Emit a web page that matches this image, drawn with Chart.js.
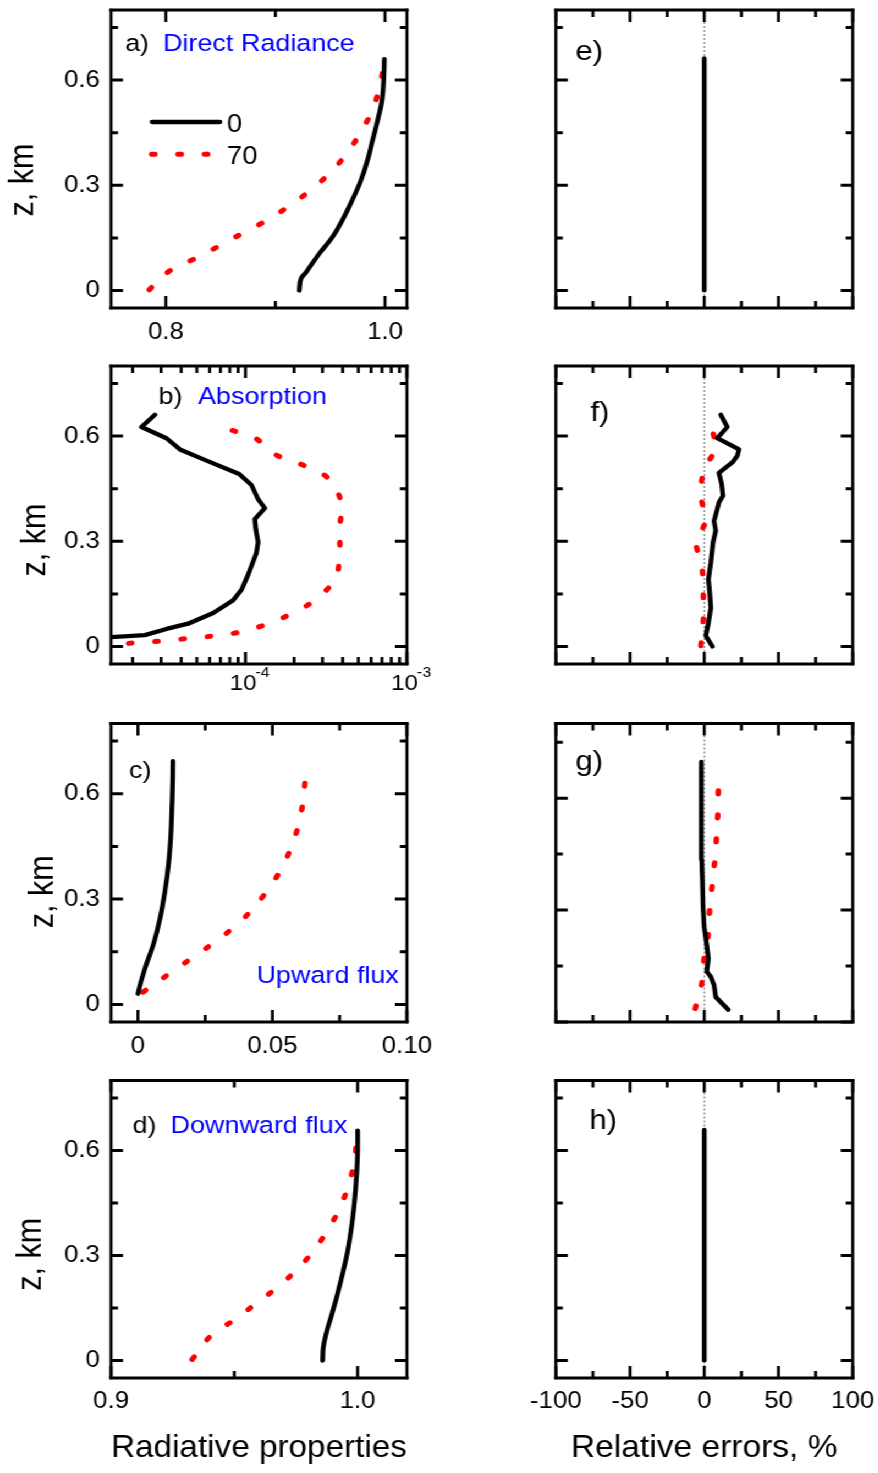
<!DOCTYPE html>
<html>
<head>
<meta charset="utf-8">
<script src="https://cdn.jsdelivr.net/npm/chart.js"></script>
<style>
  html, body { margin: 0; padding: 0; background: #fff; overflow: hidden; }
  /* the figure is laid out in narrower units and widened by SX */
  #fig { position: relative; width: 798.18px; height: 1473px; transform: scaleX(1.1); transform-origin: 0 0; }
  #fig canvas { position: absolute; }
</style>
</head>
<body>
<div id="fig"></div>
<script>
const SX = 1.1;
const FONT = "'Liberation Sans', Arial, Helvetica, sans-serif";

// ---------- a) direct radiance vs height ----------
const zDirect0  = [0, 0.033, 0.052, 0.105, 0.152, 0.200, 0.257, 0.314, 0.371, 0.429, 0.486, 0.543, 0.600, 0.660];
const direct0   = [0.9218, 0.9233, 0.9280, 0.9400, 0.9520, 0.9610, 0.9700, 0.9780, 0.9840, 0.9887, 0.9933, 0.9973, 0.9988, 0.9994];
const zDirect70 = [0.002, 0.055, 0.090, 0.126, 0.165, 0.203, 0.250, 0.305, 0.373, 0.445, 0.517, 0.590, 0.655];
const direct70  = [0.7848, 0.8030, 0.8259, 0.8480, 0.8710, 0.8938, 0.9166, 0.9394, 0.9607, 0.9766, 0.9887, 0.9957, 0.9993];

// ---------- b) absorption ----------
const zAbs0   = [0.026, 0.0325, 0.050, 0.065, 0.0955, 0.132, 0.162, 0.205, 0.2675, 0.298, 0.334, 0.363, 0.3946, 0.420, 0.4605, 0.492, 0.530, 0.562, 0.594, 0.626, 0.661];
const absorb0 = [1.40e-5, 2.38e-5, 3.24e-5, 4.41e-5, 6.31e-5, 8.39e-5, 9.45e-5, 1.039e-4, 1.17e-4, 1.198e-4, 1.159e-4, 1.142e-4, 1.318e-4, 1.198e-4, 1.089e-4, 9.14e-5, 5.74e-5, 3.93e-5, 3.24e-5, 2.27e-5, 2.75e-5];
const zAbs70   = [0.000, 0.005, 0.0115, 0.016, 0.024, 0.0306, 0.041, 0.062, 0.091, 0.132, 0.194, 0.266, 0.339, 0.409, 0.480, 0.518, 0.546, 0.595, 0.619];
const absorb70 = [1.30e-5, 1.556e-5, 2.22e-5, 3.17e-5, 4.59e-5, 6.55e-5, 9.23e-5, 1.33e-4, 1.88e-4, 2.69e-4, 3.60e-4, 3.83e-4, 3.83e-4, 3.93e-4, 3.25e-4, 2.25e-4, 1.556e-4, 1.14e-4, 7.93e-5];

// ---------- c) upward flux ----------
const zUp0   = [0.0306, 0.0573, 0.105, 0.172, 0.248, 0.325, 0.401, 0.478, 0.554, 0.631, 0.693];
const upFlux0 = [0.0, 0.00087, 0.0027, 0.0058, 0.0083, 0.0101, 0.0114, 0.0122, 0.0126, 0.0129, 0.0130];
const zUp70   = [0.035, 0.086, 0.134, 0.184, 0.244, 0.313, 0.385, 0.459, 0.528, 0.602, 0.672];
const upFlux70 = [0.00185, 0.0114, 0.0204, 0.0297, 0.0392, 0.0470, 0.0532, 0.0575, 0.0602, 0.0617, 0.0624];

// ---------- d) downward flux ----------
const zDown0    = [0, 0.038, 0.076, 0.124, 0.181, 0.248, 0.314, 0.390, 0.467, 0.543, 0.600, 0.657];
const downFlux0 = [0.9858, 0.9861, 0.9872, 0.9892, 0.9915, 0.9939, 0.9960, 0.9977, 0.9989, 0.9997, 1.0000, 1.0000];
const zDown70    = [0.003, 0.067, 0.117, 0.170, 0.226, 0.293, 0.365, 0.438, 0.508, 0.579, 0.652];
const downFlux70 = [0.9329, 0.9400, 0.9501, 0.9602, 0.9703, 0.9798, 0.9872, 0.9929, 0.9966, 0.9989, 0.9996];

// ---------- e)-h) relative errors, % ----------
const zErrDirect = [0, 0.662];
const errDirect0 = [0, 0];
const errDirect70 = [0, 0];

const zErrAbs0 = [0, 0.0306, 0.067, 0.110, 0.153, 0.191, 0.239, 0.296, 0.330, 0.358, 0.411, 0.430, 0.463, 0.495, 0.525, 0.543, 0.562, 0.594, 0.626, 0.661];
const errAbs0  = [5.5, 1.0, 2.8, 4.4, 3.7, 2.8, 4.4, 5.9, 7.7, 6.6, 9.9, 12.6, 11.7, 9.9, 18.9, 22.2, 23.4, 8.8, 15.5, 11.1];
const zErrAbs70 = [0.002, 0.076, 0.145, 0.218, 0.291, 0.361, 0.435, 0.506, 0.564, 0.635];
const errAbs70  = [-2.3, -0.6, -0.6, -1.2, -5.7, 1.5, -3.0, -0.6, 8.4, 4.6];

const zErrUp0 = [0.033, 0.067, 0.099, 0.121, 0.135, 0.171, 0.211, 0.256, 0.310, 0.373, 0.435, 0.498, 0.570, 0.642, 0.697];
const errUp0  = [16.2, 7.7, 6.6, 4.4, 1.7, 2.8, 1.5, -0.1, -0.8, -1.2, -1.7, -2.3, -2.1, -1.9, -1.7];
const zErrUp70 = [0.036, 0.103, 0.171, 0.238, 0.305, 0.373, 0.442, 0.507, 0.575, 0.644];
const errUp70  = [-6.1, -1.7, -0.1, 2.8, 3.7, 5.5, 7.3, 8.4, 9.3, 9.5];

const zErrDown = [0, 0.659];
const errDown0 = [0, 0];
const errDown70 = [0, 0];

// ---------- ticks ----------
const zTicks = [0, 0.3, 0.6];
const zTickLabels = ['0', '0.3', '0.6'];
const zMinor = [0.15, 0.45, 0.75];

const directTicks = [0.8, 1.0];
const directTickLabels = ['0.8', '1.0'];
const directMinor = [0.9];

const absTicks = [1e-4, 1e-3];
const absTickExponents = ['-4', '-3'];
const absMinor = [2e-5, 3e-5, 4e-5, 5e-5, 6e-5, 7e-5, 8e-5, 9e-5, 2e-4, 3e-4, 4e-4, 5e-4, 6e-4, 7e-4, 8e-4, 9e-4];

const upTicks = [0, 0.05, 0.10];
const upTickLabels = ['0', '0.05', '0.10'];
const upMinor = [0.025, 0.075];

const downTicks = [0.9, 1.0];
const downTickLabels = ['0.9', '1.0'];
const downMinor = [0.95];

const errTicks = [-100, -50, 0, 50, 100];
const errTickLabels = ['-100', '-50', '0', '50', '100'];
const errMinor = [-75, -25, 25, 75];

// ---------- layout (figure pixels) ----------
const COLS = [
  { x0: 0,   x1: 440, L: 111, R: 408 },
  { x0: 460, x1: 878, L: 556, R: 854 }
];
const ROWS = [
  { y0: 0,    y1: 357,  T: 10,     B: 308,  xPad: 10.5 },
  { y0: 357,  y1: 714,  T: 366,    B: 664,  xPad: 10.5 },
  { y0: 714,  y1: 1071, T: 723.5,  B: 1022, xPad: 10.5 },
  { y0: 1071, y1: 1473, T: 1080.5, B: 1378, xPad: 9.6 }
];
const FRAME_W = 3;
const TICK_MAJOR = 12;
const TICK_MINOR = 7;
const TICK_FONT = 23.5;
const TITLE_FONT = 30.5;
const LEFT_LABEL_FONT = 24.5;
const RIGHT_LABEL_FONT = 28.5;
const BLUE = '#0000ff';

const solid = (xs, zs, tension) => ({
  data: xs.map((v, i) => ({ x: v, y: zs[i] })),
  showLine: true, borderColor: '#000000', borderWidth: 4.3, pointRadius: 0,
  borderCapStyle: 'round', borderJoinStyle: 'round', tension
});
const dotted = (xs, zs, tension, width = 5) => ({
  data: xs.map((v, i) => ({ x: v, y: zs[i] })),
  showLine: true, borderColor: '#ff0000', borderWidth: width, pointRadius: 0,
  borderDash: [3, 21], borderCapStyle: 'round', borderJoinStyle: 'round', tension
});

const panels = [
  { id: 'a', col: 0, row: 0, xType: 'linear', xMin: 0.75, xMax: 1.02, yMin: -0.05, yMax: 0.8,
    xTicks: directTicks, xLabels: directTickLabels, xMinor: directMinor, yLabels: true,
    datasets: [solid(direct0, zDirect0, 0.4), dotted(direct70, zDirect70, 0.4)],
    texts: [['a)', '#000', 14, 40.7, LEFT_LABEL_FONT], ['Direct Radiance', BLUE, 52, 40.7, LEFT_LABEL_FONT]],
    yTitle: [-87, 21],
    legend: [
      { ds: 0, text: '0',  x0: 41,   x1: 109,  dy: 112,   tx: 116, ty: 121.7 },
      { ds: 1, text: '70', x0: 40.6, x1: 96.7, dy: 144.3, tx: 116, ty: 154.3 }
    ] },
  { id: 'b', col: 0, row: 1, xType: 'logarithmic', xMin: 1.47e-5, xMax: 1e-3, yMin: -0.05, yMax: 0.8,
    xTicks: absTicks, xExp: absTickExponents, xMinor: absMinor, yLabels: true,
    datasets: [solid(absorb0, zAbs0, 0), dotted(absorb70, zAbs70, 0.35)],
    texts: [['b)', '#000', 47.5, 38.3, LEFT_LABEL_FONT], ['Absorption', BLUE, 87, 38.3, LEFT_LABEL_FONT]],
    yTitle: [-75, 25] },
  { id: 'c', col: 0, row: 2, xType: 'linear', xMin: -0.01, xMax: 0.10, yMin: -0.05, yMax: 0.8,
    xTicks: upTicks, xLabels: upTickLabels, xMinor: upMinor, yLabels: true,
    datasets: [solid(upFlux0, zUp0, 0.4), dotted(upFlux70, zUp70, 0.4)],
    texts: [['c)', '#000', 18, 54.8, LEFT_LABEL_FONT], ['Upward flux', BLUE, 145.5, 259.5, LEFT_LABEL_FONT]],
    yTitle: [-67, 19] },
  { id: 'd', col: 0, row: 3, xType: 'linear', xMin: 0.9, xMax: 1.02, yMin: -0.05, yMax: 0.8,
    xTicks: downTicks, xLabels: downTickLabels, xMinor: downMinor, yLabels: true,
    xTitle: 'Radiative properties',
    datasets: [solid(downFlux0, zDown0, 0.4), dotted(downFlux70, zDown70, 0.4)],
    texts: [['d)', '#000', 21.5, 52.8, LEFT_LABEL_FONT], ['Downward flux', BLUE, 59.5, 52.8, LEFT_LABEL_FONT]],
    yTitle: [-80, 25] },
  { id: 'e', col: 1, row: 0, xType: 'linear', xMin: -100, xMax: 100, yMin: -0.05, yMax: 0.8,
    xTicks: errTicks, xLabels: null, xMinor: errMinor, yLabels: false, zeroLine: true,
    datasets: [solid(errDirect0, zErrDirect, 0), dotted(errDirect70, zErrDirect, 0, 3.5)],
    texts: [['e)', '#000', 19.5, 50, RIGHT_LABEL_FONT]] },
  { id: 'f', col: 1, row: 1, xType: 'linear', xMin: -100, xMax: 100, yMin: -0.05, yMax: 0.8,
    xTicks: errTicks, xLabels: null, xMinor: errMinor, yLabels: false, zeroLine: true,
    datasets: [solid(errAbs0, zErrAbs0, 0), dotted(errAbs70, zErrAbs70, 0)],
    texts: [['f)', '#000', 34.5, 54.5, RIGHT_LABEL_FONT]] },
  { id: 'g', col: 1, row: 2, xType: 'linear', xMin: -100, xMax: 100, yMin: 0, yMax: 0.8,
    xTicks: errTicks, xLabels: null, xMinor: errMinor, yLabels: false, zeroLine: true,
    datasets: [solid(errUp0, zErrUp0, 0), dotted(errUp70, zErrUp70, 0.3)],
    texts: [['g)', '#000', 19.5, 46.5, RIGHT_LABEL_FONT]] },
  { id: 'h', col: 1, row: 3, xType: 'linear', xMin: -100, xMax: 100, yMin: -0.05, yMax: 0.8,
    xTicks: errTicks, xLabels: errTickLabels, xMinor: errMinor, yLabels: false, zeroLine: true,
    xTitle: 'Relative errors, %',
    datasets: [solid(errDown0, zErrDown, 0), dotted(errDown70, zErrDown, 0, 3.5)],
    texts: [['h)', '#000', 33.5, 48.8, RIGHT_LABEL_FONT]] }
];

// frame, inward ticks, annotations and legend for each panel
const DECOR = {};
const panelDecor = {
  id: 'panelDecor',
  beforeDatasetsDraw(chart) {
    const d = DECOR[chart.canvas.id];
    if (!d || !d.zeroLine) return;
    const { ctx, chartArea: a } = chart;
    const px = chart.scales.x.getPixelForValue(0);
    ctx.save();
    ctx.strokeStyle = '#555555';
    ctx.lineWidth = 1 / SX;
    ctx.setLineDash([2, 2]);
    ctx.beginPath();
    ctx.moveTo(px, a.top);
    ctx.lineTo(px, a.bottom);
    ctx.stroke();
    ctx.restore();
  },
  afterDatasetsDraw(chart) {
    const d = DECOR[chart.canvas.id];
    if (!d) return;
    const { ctx, chartArea: a } = chart;
    const xs = chart.scales.x, ys = chart.scales.y;
    ctx.save();
    ctx.strokeStyle = '#000';
    ctx.fillStyle = '#000';

    // frame
    ctx.lineCap = 'square';
    ctx.lineWidth = FRAME_W;
    ctx.beginPath();
    ctx.moveTo(a.left, a.top); ctx.lineTo(a.right, a.top);
    ctx.moveTo(a.left, a.bottom); ctx.lineTo(a.right, a.bottom);
    ctx.stroke();
    ctx.lineWidth = FRAME_W / SX;
    ctx.beginPath();
    ctx.moveTo(a.left, a.top); ctx.lineTo(a.left, a.bottom);
    ctx.moveTo(a.right, a.top); ctx.lineTo(a.right, a.bottom);
    ctx.stroke();

    // inward ticks on all four sides
    ctx.lineCap = 'butt';
    const xMarks = (vals, len) => {
      ctx.lineWidth = FRAME_W / SX;
      ctx.beginPath();
      vals.forEach(v => {
        const px = xs.getPixelForValue(v);
        if (px < a.left - 0.5 || px > a.right + 0.5) return;
        ctx.moveTo(px, a.bottom); ctx.lineTo(px, a.bottom - len);
        ctx.moveTo(px, a.top); ctx.lineTo(px, a.top + len);
      });
      ctx.stroke();
    };
    const yMarks = (vals, len) => {
      ctx.lineWidth = FRAME_W;
      ctx.beginPath();
      vals.forEach(v => {
        const py = ys.getPixelForValue(v);
        if (py < a.top - 0.5 || py > a.bottom + 0.5) return;
        ctx.moveTo(a.left, py); ctx.lineTo(a.left + len / SX, py);
        ctx.moveTo(a.right, py); ctx.lineTo(a.right - len / SX, py);
      });
      ctx.stroke();
    };
    xMarks(d.xTicks, TICK_MAJOR);
    xMarks(d.xMinor, TICK_MINOR);
    yMarks(zTicks, TICK_MAJOR);
    yMarks(zMinor, TICK_MINOR);

    // powers of ten under the logarithmic axis
    if (d.xExp) {
      d.xTicks.forEach((v, i) => {
        const cx = xs.getPixelForValue(v) - 2.3 / SX;
        ctx.font = `22px ${FONT}`;
        ctx.textAlign = 'center';
        ctx.textBaseline = 'alphabetic';
        const w = ctx.measureText('10').width;
        ctx.fillText('10', cx, a.bottom + 26);
        ctx.font = `14.5px ${FONT}`;
        ctx.textAlign = 'left';
        ctx.fillText(d.xExp[i], cx + w / 2 - 1, a.bottom + 12.7);
      });
    }

    // panel letters and captions
    ctx.textAlign = 'left';
    ctx.textBaseline = 'alphabetic';
    (d.texts || []).forEach(([txt, color, dx, dy, size]) => {
      ctx.font = `${size}px ${FONT}`;
      ctx.fillStyle = color;
      ctx.fillText(txt, a.left + dx / SX, a.top + dy);
    });

    // legend with line samples taken from the datasets
    (d.legend || []).forEach(item => {
      const ds = chart.data.datasets[item.ds];
      ctx.save();
      ctx.strokeStyle = ds.borderColor;
      ctx.lineWidth = ds.borderWidth;
      ctx.lineCap = ds.borderCapStyle || 'butt';
      ctx.setLineDash(ds.borderDash || []);
      ctx.beginPath();
      ctx.moveTo(a.left + item.x0 / SX, a.top + item.dy);
      ctx.lineTo(a.left + item.x1 / SX, a.top + item.dy);
      ctx.stroke();
      ctx.restore();
      ctx.font = `25px ${FONT}`;
      ctx.fillStyle = '#000';
      ctx.fillText(item.text, a.left + item.tx / SX, a.top + item.ty);
    });

    // vertical axis title
    if (d.yTitle) {
      ctx.save();
      ctx.fillStyle = '#000';
      ctx.font = `${TITLE_FONT}px ${FONT}`;
      ctx.textAlign = 'center';
      ctx.textBaseline = 'middle';
      ctx.translate(a.left + d.yTitle[0] / SX, (a.top + a.bottom) / 2 + d.yTitle[1]);
      ctx.rotate(-Math.PI / 2);
      ctx.fillText('z, km', 0, 0);
      ctx.restore();
    }
    ctx.restore();
  }
};
Chart.register(panelDecor);

const fig = document.getElementById('fig');

panels.forEach(p => {
  const col = COLS[p.col], row = ROWS[p.row];
  const canvas = document.createElement('canvas');
  canvas.id = 'panel-' + p.id;
  canvas.width = (col.x1 - col.x0) / SX;
  canvas.height = row.y1 - row.y0;
  canvas.style.left = (col.x0 / SX) + 'px';
  canvas.style.top = row.y0 + 'px';
  canvas.style.width = canvas.width + 'px';
  canvas.style.height = canvas.height + 'px';
  fig.appendChild(canvas);

  DECOR[canvas.id] = {
    xTicks: p.xTicks, xMinor: p.xMinor, xExp: p.xExp, texts: p.texts,
    legend: p.legend, yTitle: p.yTitle, zeroLine: p.zeroLine
  };

  const yAxisW = (col.L - col.x0) / SX;
  const xAxisH = row.y1 - row.B;
  const tickFont = { family: FONT, size: TICK_FONT };

  new Chart(canvas, {
    type: 'scatter',
    data: { datasets: p.datasets },
    options: {
      responsive: false,
      animation: false,
      events: [],
      layout: { padding: { left: 0, top: row.T - row.y0, right: (col.x1 - col.R) / SX, bottom: 0 } },
      plugins: { legend: { display: false }, tooltip: { enabled: false } },
      scales: {
        x: {
          type: p.xType, position: 'bottom', min: p.xMin, max: p.xMax, bounds: 'data',
          grid: { display: false, drawTicks: false }, border: { display: false },
          afterBuildTicks: s => { s.ticks = p.xTicks.map(v => ({ value: v })); },
          afterFit: s => {
            s.height = xAxisH;
            s.paddingLeft = 0; s.paddingRight = 0; s.paddingTop = 0; s.paddingBottom = 0;
          },
          ticks: {
            display: !!p.xLabels, autoSkip: false, maxRotation: 0, minRotation: 0,
            padding: row.xPad, color: '#000', font: tickFont,
            callback: (v, i) => (p.xLabels ? p.xLabels[i] : '')
          },
          title: {
            display: !!p.xTitle, text: p.xTitle || '', color: '#000',
            font: { family: FONT, size: TITLE_FONT, lineHeight: 1.2 },
            padding: { top: 0, bottom: 6 }
          }
        },
        y: {
          type: 'linear', position: 'left', min: p.yMin, max: p.yMax, bounds: 'data',
          grid: { display: false, drawTicks: false }, border: { display: false },
          afterBuildTicks: s => { s.ticks = zTicks.map(v => ({ value: v })); },
          afterFit: s => {
            s.width = yAxisW;
            s.paddingLeft = 0; s.paddingRight = 0; s.paddingTop = 0; s.paddingBottom = 0;
          },
          ticks: {
            display: p.yLabels, autoSkip: false, padding: 10, color: '#000', font: tickFont,
            callback: (v, i) => zTickLabels[i]
          }
        }
      }
    }
  });
});
</script>
</body>
</html>
